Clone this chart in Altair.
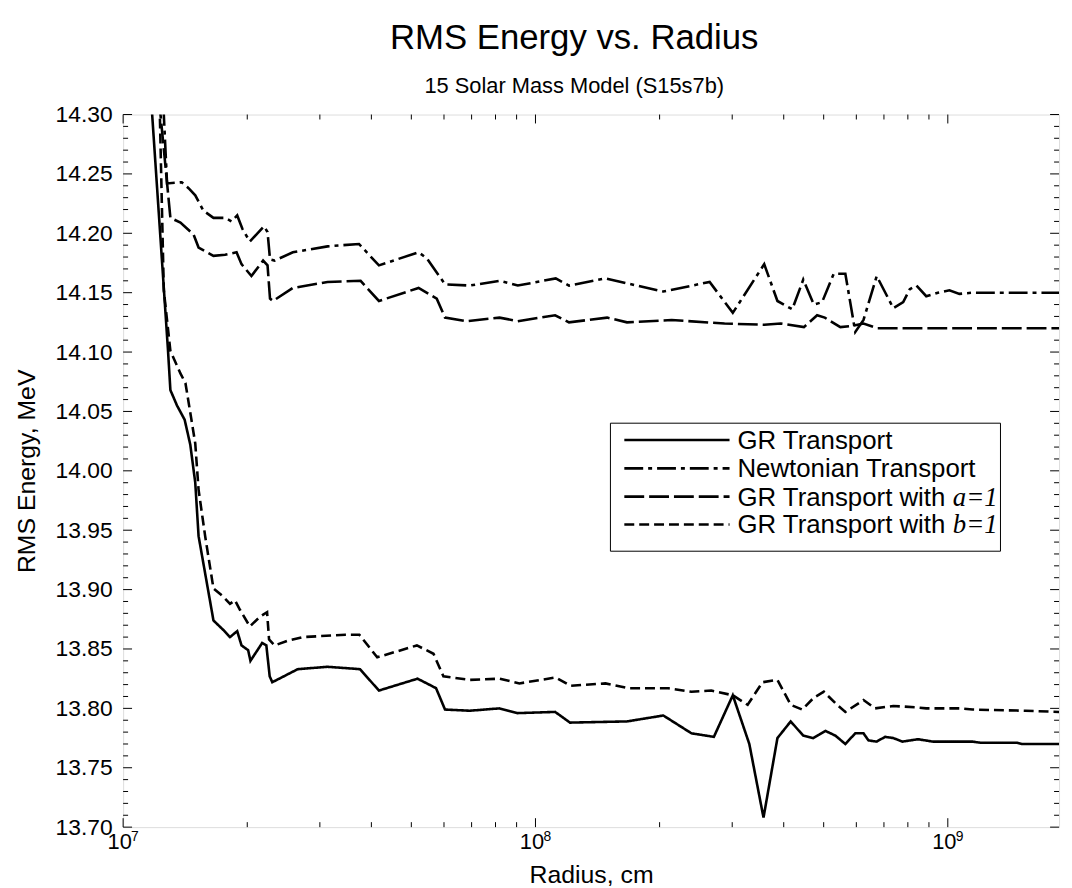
import altair as alt
import pandas as pd

# ---------------- data (radius in cm, RMS energy in MeV) -------------
gr_r = [1.159e7, 1.176e7, 1.285e7, 1.302e7, 1.351e7, 1.410e7, 1.455e7, 1.496e7, 1.524e7, 1.656e7,
        1.750e7, 1.816e7, 1.891e7, 1.937e7, 2.010e7, 2.036e7, 2.173e7, 2.225e7, 2.267e7, 2.300e7,
        2.652e7, 3.131e7, 3.754e7, 4.172e7, 5.177e7, 5.740e7, 6.034e7, 6.929e7, 8.182e7, 9.060e7,
        1.116e8, 1.213e8, 1.667e8, 2.042e8, 2.389e8, 2.708e8, 3.010e8, 3.301e8, 3.573e8, 3.862e8,
        4.159e8, 4.461e8, 4.715e8, 5.051e8, 5.339e8, 5.643e8, 5.965e8, 6.245e8, 6.421e8, 6.723e8,
        7.043e8, 7.374e8, 7.765e8, 8.470e8, 9.201e8, 1.148e9, 1.203e9, 1.474e9, 1.515e9, 1.861e9]
gr_e = [14.334, 14.300, 14.101, 14.068, 14.055, 14.043, 14.022, 13.990, 13.945, 13.874,
        13.866, 13.860, 13.865, 13.853, 13.849, 13.840, 13.855, 13.853, 13.827, 13.822,
        13.833, 13.835, 13.833, 13.815, 13.825, 13.817, 13.799, 13.798, 13.800, 13.796,
        13.797, 13.788, 13.789, 13.794, 13.779, 13.776, 13.811, 13.770, 13.708, 13.775,
        13.789, 13.777, 13.775, 13.781, 13.777, 13.770, 13.779, 13.779, 13.773, 13.772,
        13.776, 13.775, 13.772, 13.774, 13.772, 13.772, 13.771, 13.771, 13.770, 13.770]

newt_r = [1.241e7, 1.255e7, 1.278e7, 1.387e7, 1.441e7, 1.496e7, 1.566e7, 1.656e7, 1.767e7, 1.833e7,
          1.891e7, 1.945e7, 2.029e7, 2.197e7, 2.240e7, 2.271e7, 2.331e7, 2.580e7, 3.131e7, 3.733e7,
          4.172e7, 5.206e7, 5.451e7, 5.924e7, 6.034e7, 6.929e7, 8.182e7, 9.060e7, 1.120e8, 1.206e8,
          1.478e8, 2.042e8, 2.645e8, 3.010e8, 3.587e8, 3.862e8, 4.196e8, 4.461e8, 4.733e8, 4.955e8,
          5.289e8, 5.643e8, 5.965e8, 6.245e8, 6.723e8, 7.374e8, 7.795e8, 8.089e8, 8.391e8, 8.866e8,
          9.461e8, 1.009e9, 1.067e9, 1.148e9, 1.861e9]
newt_e = [14.334, 14.300, 14.242, 14.243, 14.238, 14.232, 14.219, 14.213, 14.213, 14.210,
          14.215, 14.204, 14.193, 14.206, 14.201, 14.178, 14.177, 14.184, 14.189, 14.191,
          14.173, 14.184, 14.179, 14.161, 14.157, 14.156, 14.160, 14.156, 14.162, 14.156,
          14.162, 14.151, 14.159, 14.133, 14.174, 14.143, 14.136, 14.161, 14.140, 14.142,
          14.166, 14.166, 14.117, 14.127, 14.164, 14.137, 14.142, 14.153, 14.156, 14.147,
          14.150, 14.152, 14.149, 14.150, 14.150]

a1_r = [1.205e7, 1.232e7, 1.302e7, 1.377e7, 1.482e7, 1.524e7, 1.656e7, 1.767e7, 1.884e7, 1.937e7,
        2.047e7, 2.185e7, 2.240e7, 2.271e7, 2.309e7, 2.580e7, 3.131e7, 3.766e7, 4.172e7, 5.206e7,
        5.762e7, 6.034e7, 6.804e7, 8.182e7, 9.060e7, 1.116e8, 1.206e8, 1.492e8, 1.667e8, 2.139e8,
        2.874e8, 3.587e8, 3.935e8, 4.478e8, 4.820e8, 5.031e8, 5.488e8, 5.853e8, 6.245e8, 6.749e8,
        8.866e8, 1.861e9]
a1_e = [14.334, 14.300, 14.213, 14.209, 14.199, 14.188, 14.181, 14.182, 14.184, 14.174,
        14.164, 14.177, 14.173, 14.145, 14.143, 14.154, 14.159, 14.160, 14.143, 14.154,
        14.145, 14.129, 14.126, 14.129, 14.126, 14.131, 14.125, 14.129, 14.125, 14.127,
        14.124, 14.123, 14.124, 14.121, 14.131, 14.129, 14.121, 14.122, 14.124, 14.120,
        14.120, 14.120]

b1_r = [1.204e7, 1.2275e7, 1.255e7, 1.302e7, 1.377e7, 1.416e7, 1.455e7, 1.496e7, 1.524e7, 1.581e7,
        1.656e7, 1.750e7, 1.816e7, 1.867e7, 1.920e7, 2.029e7, 2.145e7, 2.234e7, 2.259e7, 2.331e7,
        2.509e7, 2.727e7, 3.460e7, 3.739e7, 4.133e7, 5.157e7, 5.658e7, 5.980e7, 6.929e7, 8.182e7,
        9.141e7, 1.120e8, 1.217e8, 1.478e8, 1.682e8, 2.099e8, 2.389e8, 2.670e8, 3.010e8, 3.270e8,
        3.553e8, 3.862e8, 4.159e8, 4.436e8, 4.733e8, 5.004e8, 5.386e8, 5.643e8, 6.245e8, 6.663e8,
        7.374e8, 8.317e8, 8.866e8, 1.067e9, 1.148e9, 1.543e9, 1.861e9]
b1_e = [14.334, 14.300, 14.152, 14.101, 14.082, 14.074, 14.049, 14.023, 13.984, 13.945,
        13.901, 13.894, 13.888, 13.891, 13.883, 13.869, 13.877, 13.881, 13.858, 13.853,
        13.857, 13.860, 13.862, 13.862, 13.843, 13.853, 13.846, 13.827, 13.824, 13.825,
        13.821, 13.826, 13.819, 13.821, 13.817, 13.817, 13.814, 13.815, 13.811, 13.803,
        13.822, 13.824, 13.803, 13.799, 13.809, 13.814, 13.803, 13.797, 13.807, 13.800,
        13.802, 13.801, 13.800, 13.800, 13.799, 13.798, 13.797]

series_names = ["GR Transport", "Newtonian Transport", "GR Transport with a=1", "GR Transport with b=1"]
legend_prefix = ["GR Transport", "Newtonian Transport", "GR Transport with", "GR Transport with"]
legend_italic = ["", "", "a=1", "b=1"]
dash_patterns = [[1, 0], [19, 5, 4, 5], [20, 5], [10, 5]]

# axis ticks / labels
y_major = [13.70, 13.75, 13.80, 13.85, 13.90, 13.95, 14.00, 14.05, 14.10, 14.15, 14.20, 14.25, 14.30]
y_minor = [round(13.70 + 0.01 * k, 2) for k in range(61) if k % 5 != 0]
x_major = [1e7, 1e8, 1e9]
x_minor = [m * 10.0 ** p for p in (7, 8) for m in range(2, 10)]
x_exponents = ["7", "8", "9"]

# ---------------- chart -------------------------------------------------------------------
W, H = 943, 718
FONT = "Liberation Sans"

rows = []
for name, rs, es in zip(series_names, [gr_r, newt_r, a1_r, b1_r], [gr_e, newt_e, a1_e, b1_e]):
    for i, (r, e) in enumerate(zip(rs, es)):
        rows.append({"series": name, "r": r, "e": e, "i": i})
df = pd.DataFrame(rows)

xscale = alt.Scale(type="log", domain=[1e7, 1.861e9], nice=False)
yscale = alt.Scale(domain=[13.70, 14.30], nice=False, zero=False)

x_axis = alt.Axis(values=x_major, labelExpr="'10'", ticks=False, domain=False, grid=False,
                  labelFont=FONT, labelFontSize=22, labelColor="black", labelPadding=5,
                  labelOffset=-4, labelFlush=False,
                  title="Radius, cm", titleFont=FONT, titleFontSize=25,
                  titleFontWeight="normal", titleColor="black", titlePadding=10)
y_axis = alt.Axis(values=y_major, format=".2f", ticks=False, domain=False, grid=False,
                  labelFont=FONT, labelFontSize=23, labelColor="black", labelPadding=11,
                  labelFlush=False,
                  title="RMS Energy, MeV", titleFont=FONT, titleFontSize=25,
                  titleFontWeight="normal", titleColor="black", titlePadding=16)

lines = alt.Chart(df).mark_line(clip=True, strokeWidth=2.6, color="black", strokeCap="butt").encode(
    x=alt.X("r:Q", scale=xscale, axis=x_axis, title="Radius, cm"),
    y=alt.Y("e:Q", scale=yscale, axis=y_axis, title="RMS Energy, MeV"),
    strokeDash=alt.StrokeDash("series:N", scale=alt.Scale(domain=series_names, range=dash_patterns),
                              legend=None),
    detail="series:N",
    order="i:Q",
)

ymaj = pd.DataFrame({"v": y_major})
ymin = pd.DataFrame({"v": y_minor})
xmaj = pd.DataFrame({"v": x_major})
xmin = pd.DataFrame({"v": x_minor})


def Yv():
    return alt.Y("v:Q", scale=yscale, axis=y_axis, title="RMS Energy, MeV")


def Xv():
    return alt.X("v:Q", scale=xscale, axis=x_axis, title="Radius, cm")


def yticks(data, length):
    left = alt.Chart(data).mark_rule(color="black", strokeWidth=1).encode(
        y=Yv(), x=alt.value(0), x2=alt.value(length))
    right = alt.Chart(data).mark_rule(color="black", strokeWidth=1).encode(
        y=Yv(), x=alt.value(W - length), x2=alt.value(W))
    return [left, right]


def xticks(data, length):
    bottom = alt.Chart(data).mark_rule(color="black", strokeWidth=1).encode(
        x=Xv(), y=alt.value(H - length), y2=alt.value(H))
    top = alt.Chart(data).mark_rule(color="black", strokeWidth=1).encode(
        x=Xv(), y=alt.value(0), y2=alt.value(length))
    return [bottom, top]


tick_layers = yticks(ymaj, 9) + yticks(ymin, 5) + xticks(xmaj, 9) + xticks(xmin, 5)

exp_df = pd.DataFrame({"v": x_major, "t": x_exponents})
exponents = alt.Chart(exp_df).mark_text(align="left", baseline="middle", font=FONT, fontSize=14,
                                        color="black", dx=8).encode(
    x=Xv(), y=alt.value(H + 10), text="t:N")

# ---------------- legend (drawn inside the plot) ------------------------------------------
one = pd.DataFrame({"k": [0]})
legend_box = alt.Chart(one).mark_rect(fill="white", stroke="black", strokeWidth=1).encode(
    x=alt.value(491), x2=alt.value(884), y=alt.value(311), y2=alt.value(440))

legend_layers = [legend_box]
row_y = [328, 356.5, 385, 413]
for k in range(4):
    legend_layers.append(
        alt.Chart(one).mark_rule(color="black", strokeWidth=2.6, strokeDash=dash_patterns[k],
                                 strokeCap="butt").encode(
            x=alt.value(505), x2=alt.value(611), y=alt.value(row_y[k])))
    legend_layers.append(
        alt.Chart(one).mark_text(align="left", baseline="middle", font=FONT, fontSize=26,
                                 color="black", text=legend_prefix[k]).encode(
            x=alt.value(619), y=alt.value(row_y[k] + 1)))
    if legend_italic[k]:
        legend_layers.append(
            alt.Chart(one).mark_text(align="left", baseline="middle", font="Liberation Serif",
                                     fontStyle="italic", fontSize=27, color="black",
                                     text=legend_italic[k]).encode(
                x=alt.value(836), y=alt.value(row_y[k] + 1)))

chart = alt.layer(lines, *tick_layers, exponents, *legend_layers).properties(
    width=W, height=H,
    title=alt.TitleParams(text="RMS Energy vs. Radius", subtitle="15 Solar Mass Model (S15s7b)",
                          font=FONT, fontSize=35, fontWeight="normal", color="black",
                          subtitleFont=FONT, subtitleFontSize=22, subtitleColor="black",
                          anchor="middle", frame="group", dx=-17, offset=7, subtitlePadding=20),
    autosize=alt.AutoSizeParams(type="none"),
    padding={"left": 116, "top": 104, "right": 5, "bottom": 58},
).configure_view(stroke="black", strokeWidth=1).configure(background="white")

chart.save("out.html", embed_options={"renderer": "svg", "actions": False})
